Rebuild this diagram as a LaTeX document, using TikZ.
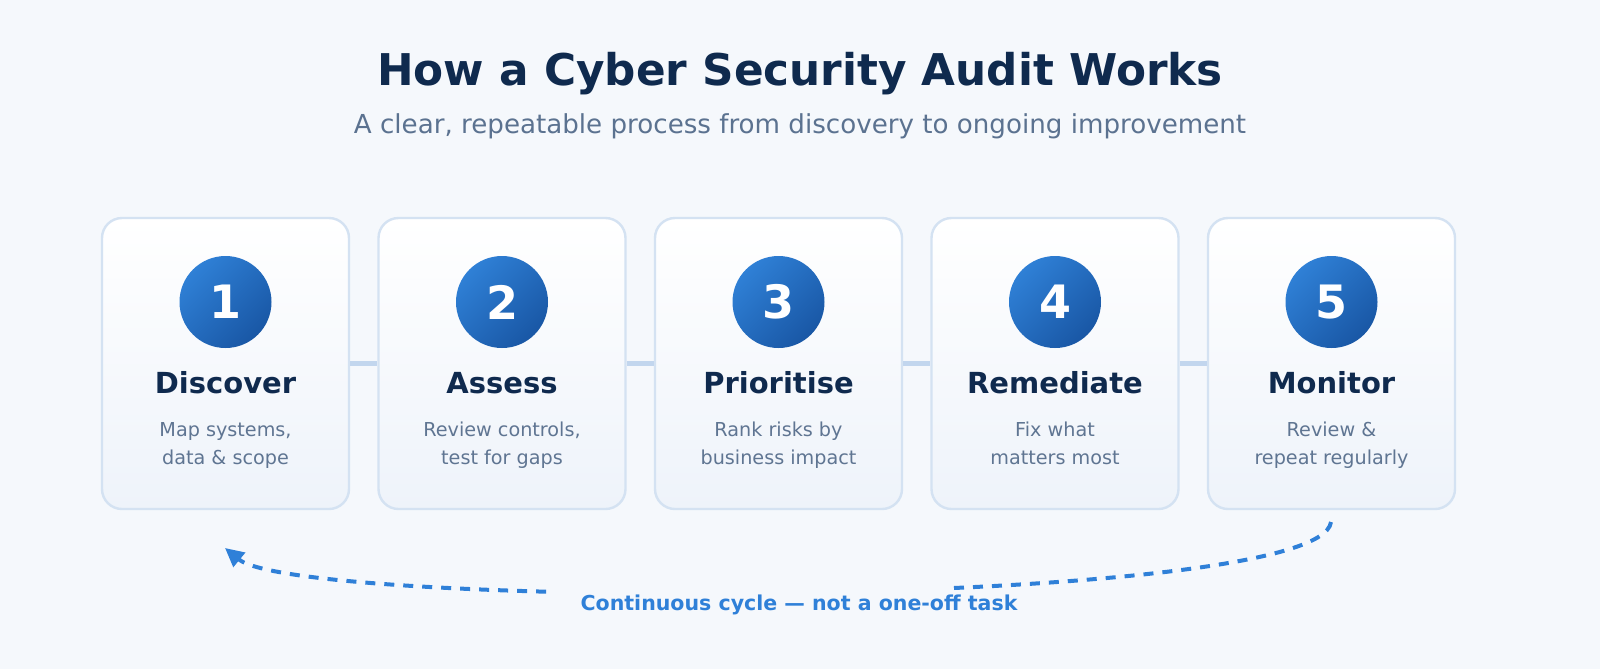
\documentclass[tikz,border=0pt]{standalone}
\usepackage{fontspec}
\setmainfont{DejaVu Sans}
\usetikzlibrary{arrows.meta}
\definecolor{bg}{HTML}{F5F8FC}
\definecolor{navy}{HTML}{0F2A4E}
\definecolor{subgray}{HTML}{5B7290}
\definecolor{descgray}{HTML}{5F7592}
\definecolor{cardborder}{HTML}{D4E2F2}
\definecolor{cardbottom}{HTML}{EEF3FA}
\definecolor{barblue}{HTML}{C2D6EE}
\definecolor{circlight}{HTML}{2F80D6}
\definecolor{circdark}{HTML}{1957A5}
\definecolor{loopblue}{HTML}{2F80D8}
\tikzset{
  card/.style={draw=cardborder, line width=1.8pt, rounded corners=15pt,
    top color=white, bottom color=cardbottom,
    minimum width=185.25pt, minimum height=218.25pt, inner sep=0pt},
  numcircle/.style={circle, inner sep=0pt, minimum size=69pt,
    top color=circlight, bottom color=circdark, shading angle=45,
    text=white, font=\bfseries\fontsize{34.5}{34.5}\selectfont},
  ctitle/.style={anchor=base, inner sep=0pt, text=navy,
    font=\bfseries\fontsize{21.75}{26}\selectfont},
  cdesc/.style={anchor=base, inner sep=0pt, text=descgray,
    font=\fontsize{14.4}{17}\selectfont},
  linkbar/.style={draw=barblue, line width=3.75pt},
  loopline/.style={draw=loopblue, line width=3pt, dash pattern=on 7.5pt off 6.75pt,
    -{Triangle[length=14pt,width=13.5pt]}},
}
\begin{document}
\begin{tikzpicture}[x=0.75pt,y=-0.75pt]
\fill[bg] (0,0) rectangle (1600,669);
\useasboundingbox (0,0) rectangle (1600,669);

\node[anchor=base, inner sep=0pt, text=navy, font=\bfseries\fontsize{32.8}{38}\selectfont]
  (title) at (800,85) {How a Cyber Security Audit Works};
\node[anchor=base, inner sep=0pt, text=subgray, font=\fontsize{19.6}{24}\selectfont]
  (subtitle) at (800,133) {A clear, repeatable process from discovery to ongoing improvement};

\foreach \i/\x/\ttl/\la/\lb in {
  1/225.5/Discover/{Map systems,}/{data \& scope},
  2/502/Assess/{Review controls,}/{test for gaps},
  3/778.5/Prioritise/{Rank risks by}/{business impact},
  4/1055/Remediate/{Fix what}/{matters most},
  5/1331.5/Monitor/{Review \&}/{repeat regularly}}{
  \node[card] (c\i) at (\x,363.5) {};
  \node[numcircle] (n\i) at (\x,302) {\i};
  \node[ctitle] (t\i) at (\x,393) {\ttl};
  \node[cdesc] (da\i) at (\x,436) {\la};
  \node[cdesc] (db\i) at (\x,464) {\lb};
}

\draw[linkbar] (c1.east) -- (c2.west);
\draw[linkbar] (c2.east) -- (c3.west);
\draw[linkbar] (c3.east) -- (c4.west);
\draw[linkbar] (c4.east) -- (c5.west);

\coordinate (ls) at (1331,522);
\coordinate (le) at (225,548);
\draw[loopline] (ls) .. controls (1320,610) and (300,610) .. (le);
\fill[bg] (553,571) rectangle (952,602);

\node[anchor=base, inner sep=0pt, text=loopblue, font=\bfseries\fontsize{15.4}{18}\selectfont]
  (caption) at (799,610) {Continuous cycle — not a one-off task};
\end{tikzpicture}
\end{document}
